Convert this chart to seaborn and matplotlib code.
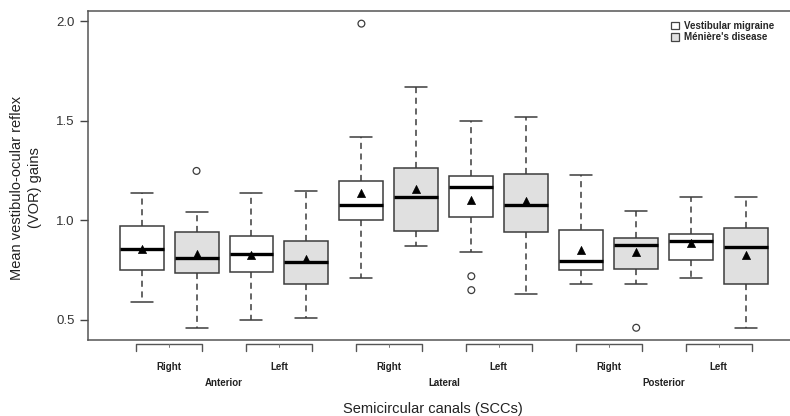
import pandas as pd
import matplotlib.pyplot as plt
from matplotlib.patches import Patch
import seaborn as sns

sns.set_style("white")
plt.rcParams['font.family'] = ['Liberation Sans', 'DejaVu Sans']

canals = ["Anterior", "Lateral", "Posterior"]
sides = ["Right", "Left"]
groups = ["Vestibular migraine", "Ménière's disease"]

# boxes ordered canal -> side -> group (VM, MD)
whisker_low = [0.59, 0.46, 0.50, 0.51, 0.71, 0.87, 0.84, 0.63, 0.68, 0.68, 0.71, 0.46]
q1 = [0.75, 0.733, 0.738, 0.682, 1.00, 0.945, 1.019, 0.939, 0.749, 0.754, 0.80, 0.679]
median = [0.856, 0.81, 0.83, 0.79, 1.079, 1.119, 1.165, 1.079, 0.795, 0.878, 0.895, 0.868]
q3 = [0.969, 0.94, 0.919, 0.895, 1.198, 1.265, 1.22, 1.235, 0.95, 0.913, 0.93, 0.959]
whisker_high = [1.139, 1.041, 1.139, 1.148, 1.419, 1.669, 1.498, 1.518, 1.23, 1.049, 1.119, 1.119]
means = [0.855, 0.83, 0.827, 0.803, 1.139, 1.158, 1.101, 1.098, 0.85, 0.84, 0.887, 0.825]
outliers = [[], [1.248], [], [], [1.988], [], [0.719, 0.649], [], [], [0.46], [], []]

yticks = [0.5, 1.0, 1.5, 2.0]
colors = {"Vestibular migraine": "white", "Ménière's disease": "#e0e0e0"}

slots = [str(i + 1) for i in range(12)]
box_group = [groups[i % 2] for i in range(12)]

# five-number summary per box as a long table (whiskers = min / max)
rows = []
for i, s in enumerate(slots):
    for v in [whisker_low[i], q1[i], median[i], q3[i], whisker_high[i]]:
        rows.append({"slot": s, "group": box_group[i], "gain": v})
df = pd.DataFrame(rows)

out_slot = [slots[i] for i in range(12) for _ in outliers[i]]
out_val = [v for i in range(12) for v in outliers[i]]

fig = plt.figure(figsize=(7.9, 4.16), dpi=100)
ax = fig.add_axes([87.7 / 790, 1 - 340.3 / 416, (800 - 87.7) / 790, (340.3 - 11.3) / 416])

edge = "#3c3c3c"
sns.boxplot(data=df, x="slot", y="gain", hue="group", order=slots, hue_order=groups,
            palette=colors, dodge=False, width=0.8, whis=(0, 100), showfliers=False,
            linecolor=edge, linewidth=1.1, legend=False, ax=ax,
            medianprops=dict(color="black", linewidth=2.4),
            whiskerprops=dict(linestyle=(0, (4, 3))))

sns.scatterplot(x=slots, y=means, marker="^", color="black", s=34, edgecolor="black",
                linewidth=0.5, zorder=5, ax=ax)
sns.scatterplot(x=out_slot, y=out_val, marker="o", s=24, facecolors="none",
                edgecolors=edge, linewidth=0.9, zorder=5, ax=ax)

ax.set_xlim(-0.98, 11.98)
ax.set_ylim(0.397, 2.05)
ax.set_yticks(yticks)
ax.set_yticklabels([f"{t:.1f}" for t in yticks], fontsize=9.5, color="#333333")
ax.tick_params(axis="y", direction="out", length=6, width=1, color="#444444", left=True)
ax.set_xticks([])
ax.set_xlabel("")
ax.set_ylabel("")
for sp in ax.spines.values():
    sp.set_color("#555555")
    sp.set_linewidth(1.1)

# side brackets and labels under the axis
trans = ax.get_xaxis_transform()
for p in range(6):
    l, r = 2 * p - 0.1, 2 * p + 1.1
    ax.plot([l, l, r, r], [-0.033, -0.012, -0.012, -0.033], transform=trans,
            clip_on=False, color="#555555", lw=1)
    ax.plot([2 * p + 0.5] * 2, [-0.012, -0.02], transform=trans, clip_on=False,
            color="#777777", lw=0.7)
    ax.text(2 * p + 0.5, -0.08, sides[p % 2], transform=trans, ha="center", va="center",
            fontsize=7, fontweight="bold", color="#222222")
for c, name in enumerate(canals):
    ax.text(4 * c + 1.5, -0.131, name, transform=trans, ha="center", va="center",
            fontsize=7, fontweight="bold", color="#222222")

fig.text(432.8 / 790, 1 - 409 / 416, "Semicircular canals (SCCs)", ha="center",
         va="center", fontsize=10.5, color="#222222")
fig.text(26 / 790, 1 - 188 / 416, "Mean vestibulo-ocular reflex\n(VOR) gains",
         rotation=90, ha="center", va="center", fontsize=10.5, linespacing=1.35,
         color="#222222")

handles = [Patch(facecolor=colors[g], edgecolor="#444444", linewidth=0.9) for g in groups]
leg = fig.legend(handles, groups, loc="upper left", bbox_to_anchor=(666 / 790, 1 - 16 / 416),
                 frameon=False, handlelength=0.8, handleheight=0.8, handletextpad=0.5,
                 labelspacing=0.15, borderpad=0, prop={"size": 7, "weight": "bold"})

fig.savefig("out.png", dpi=100)
